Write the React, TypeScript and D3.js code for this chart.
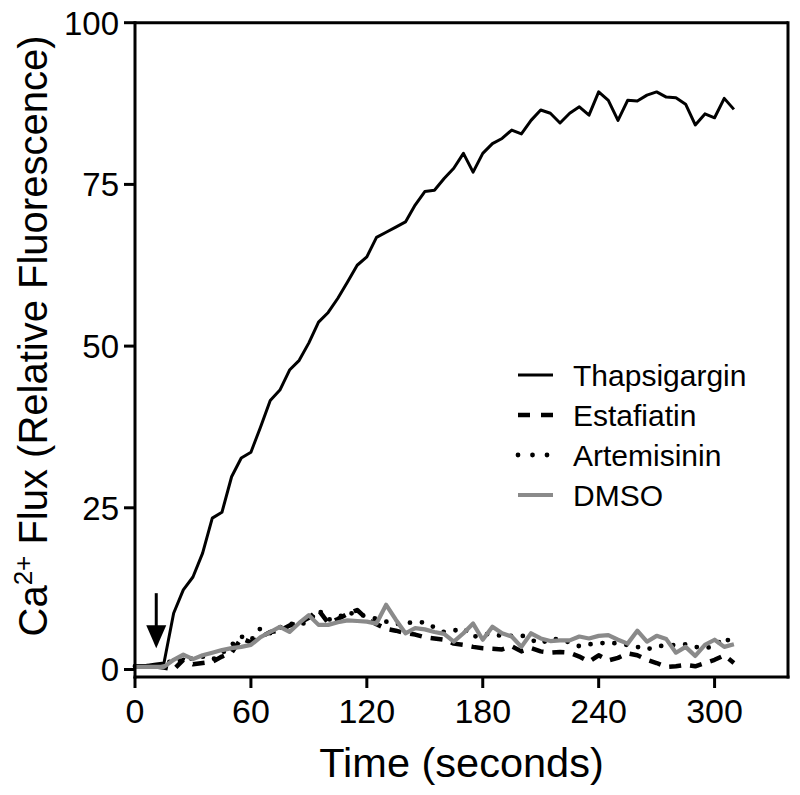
import React from "react";
import * as d3 from "d3";

const timeStep = 5;
const thapsigargin = [0.5,0.6,0.8,1.0,8.7,12.3,14.3,18.0,23.4,24.3,29.8,32.7,33.6,37.5,41.6,43.2,46.3,47.8,50.5,53.7,55.2,57.4,59.9,62.5,63.8,66.8,67.6,68.4,69.2,71.8,73.9,74.1,75.9,77.5,79.8,76.9,79.8,81.3,82.1,83.4,82.8,84.9,86.5,86.0,84.5,86.0,87.0,85.7,89.3,88.0,84.9,88.0,87.9,88.8,89.3,88.5,88.4,87.4,84.2,85.9,85.3,88.3,86.6];
const estafiatin = [0.5,0.5,0.5,0.3,0.0,1.5,0.8,1.0,1.2,2.0,2.6,4.8,4.2,5.0,5.8,6.0,6.8,7.2,8.0,9.2,7.2,7.8,8.6,9.2,7.8,7.0,6.3,6.0,5.6,5.4,5.0,4.8,4.6,4.0,3.8,3.5,3.3,3.2,3.1,3.6,2.8,3.3,2.8,2.6,2.7,2.6,2.0,1.2,2.2,1.4,1.8,2.5,2.2,1.5,1.0,0.4,0.5,0.7,0.5,1.0,1.5,2.2,1.0];
const artemisinin = [0.5,0.5,0.5,0.5,1.7,1.2,1.8,2.0,1.5,2.5,3.8,5.1,4.5,6.4,5.6,6.5,7.1,6.9,7.4,9.2,7.7,8.0,8.9,8.4,8.3,7.8,7.4,7.0,7.2,7.3,7.3,6.5,5.8,6.0,6.4,5.0,5.5,5.4,5.2,5.2,5.3,4.6,4.0,4.8,4.6,4.2,3.6,3.9,4.0,4.2,4.0,3.8,3.5,3.1,3.6,3.7,3.8,3.9,3.5,3.3,3.6,5.0,3.8];
const dmso = [0.4,0.4,0.4,0.4,1.5,2.3,1.6,2.2,2.6,3.0,3.3,3.5,3.8,5.0,5.8,6.6,5.8,7.2,8.4,6.9,6.9,7.3,7.6,7.5,7.4,7.1,10.0,7.7,5.6,6.4,6.2,5.8,5.5,4.3,5.6,7.1,4.6,6.6,5.6,5.1,3.5,5.6,4.8,4.4,4.5,4.5,5.1,4.8,5.2,5.3,4.6,4.0,6.0,4.3,5.2,4.7,2.6,3.5,2.1,3.8,4.6,3.5,3.9];

const seriesNames = ["Thapsigargin", "Estafiatin", "Artemisinin", "DMSO"];
const xTicks = [0, 60, 120, 180, 240, 300];
const yTicks = [0, 25, 50, 75, 100];
const xDomain = [0, 338];
const yDomain = [-1.16, 100];
const arrowTime = 11;
const arrowTop = 11.8;
const arrowTip = 3.3;

const FONT = "'Liberation Sans', Arial, Helvetica, sans-serif";

export default function App() {
  const W = 800, H = 795;
  const left = 135, right = 788, top = 22.7, bottom = 677;
  const x = d3.scaleLinear().domain(xDomain).range([left, right]);
  const y = d3.scaleLinear().domain(yDomain).range([bottom, top]);
  const line = d3.line<number>().x((_, i) => x(i * timeStep)).y((v) => y(v));

  const styles = [
    { stroke: "#000", width: 3, dash: undefined as string | undefined, cap: "butt" },
    { stroke: "#000", width: 4.5, dash: "12,9", cap: "butt" },
    { stroke: "#000", width: 4.8, dash: "0,12", cap: "round" },
    { stroke: "#8a8a8a", width: 4.2, dash: undefined, cap: "butt" },
  ];
  const data = [thapsigargin, estafiatin, artemisinin, dmso];

  const ax = x(arrowTime);
  const aTop = y(arrowTop);
  const aTip = y(arrowTip);
  const headH = 23;
  const headW = 10;

  return (
    <svg width={W} height={H} style={{ display: "block", position: "absolute", left: 0, top: 0 }}>
      <rect width={W} height={H} fill="#fff" />
      {data.map((d, i) => (
        <path
          key={i}
          d={line(d) || ""}
          fill="none"
          stroke={styles[i].stroke}
          strokeWidth={styles[i].width}
          strokeDasharray={styles[i].dash}
          strokeLinecap={styles[i].cap as any}
          strokeLinejoin="round"
        />
      ))}
      {/* frame */}
      <line x1={left} x2={right} y1={top} y2={top} stroke="#000" strokeWidth={3} />
      <line x1={right} x2={right} y1={top - 1.5} y2={bottom + 1.5} stroke="#000" strokeWidth={3} />
      <line x1={left} x2={left} y1={top - 1.5} y2={bottom + 1.5} stroke="#000" strokeWidth={3} />
      <line x1={left - 1.5} x2={right + 1.5} y1={bottom} y2={bottom} stroke="#000" strokeWidth={3} />
      {/* y ticks */}
      {yTicks.map((t) => (
        <g key={t}>
          <line x1={left - 11} x2={left} y1={y(t)} y2={y(t)} stroke="#000" strokeWidth={3} />
          <text x={left - 16} y={y(t)} dy="0.36em" textAnchor="end" fontFamily={FONT} fontSize={33}>
            {t}
          </text>
        </g>
      ))}
      {/* x ticks */}
      {xTicks.map((t) => (
        <g key={t}>
          <line x1={x(t)} x2={x(t)} y1={bottom} y2={bottom + 11} stroke="#000" strokeWidth={3} />
          <text x={x(t)} y={723} textAnchor="middle" fontFamily={FONT} fontSize={34}>
            {t}
          </text>
        </g>
      ))}
      <text x={(left + right) / 2} y={777} textAnchor="middle" fontFamily={FONT} fontSize={41.5}>
        Time (seconds)
      </text>
      <text
        transform={`translate(47, 336) rotate(-90)`}
        textAnchor="middle"
        fontFamily={FONT}
        fontSize={40}
      >
        Ca<tspan dy={-15} fontSize={26}>2+</tspan>
        <tspan dy={15}> Flux (Relative Fluorescence)</tspan>
      </text>
      {/* arrow */}
      <line x1={ax} x2={ax} y1={aTop} y2={aTip - headH + 1} stroke="#000" strokeWidth={3} />
      <path d={`M${ax - headW},${aTip - headH} L${ax + headW},${aTip - headH} L${ax},${aTip} Z`} fill="#000" />
      {/* legend */}
      {seriesNames.map((n, i) => {
        const ly = 375 + i * 40;
        return (
          <g key={n}>
            <line
              x1={518}
              x2={553}
              y1={ly}
              y2={ly}
              stroke={styles[i].stroke}
              strokeWidth={styles[i].width}
              strokeDasharray={i === 1 ? "12,11" : i === 2 ? "0,14.5" : undefined}
              strokeLinecap={styles[i].cap as any}
            />
            <text x={573} y={ly} dy="0.36em" fontFamily={FONT} fontSize={30}>
              {n}
            </text>
          </g>
        );
      })}
    </svg>
  );
}
